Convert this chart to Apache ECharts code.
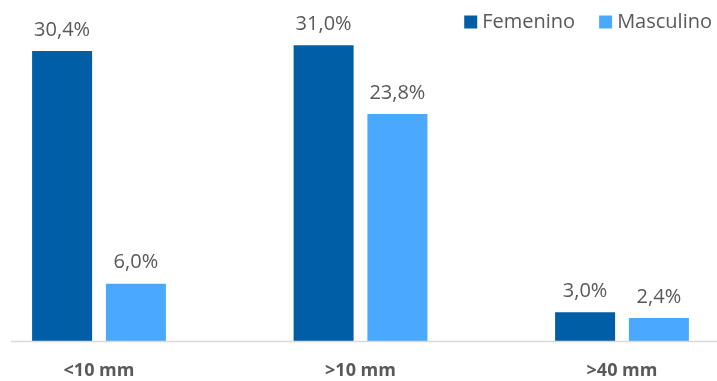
<!DOCTYPE html>
<html>
<head>
<meta charset="utf-8">
<script src="https://cdn.jsdelivr.net/npm/echarts@6/dist/echarts.min.js"></script>
<style>
  html, body { margin: 0; padding: 0; background: #fff; }
  #chart { width: 717px; height: 381px; }
</style>
</head>
<body>
<div id="chart"></div>
<script>
// Nodule size groups and share of cases per sex (%)
const categories = ['<10 mm', '>10 mm', '>40 mm'];
const femenino = [30.4, 31.0, 3.0];
const masculino = [6.0, 23.8, 2.4];
const seriesNames = ['Femenino', 'Masculino'];

const FONT = '"Open Sans", "Segoe UI", sans-serif';
const TEXT = '#595959';

const fmt = p => p.value.toFixed(1).replace('.', ',') + '%';

const labelStyle = {
  show: true,
  position: 'top',
  distance: 11,
  formatter: fmt,
  color: TEXT,
  fontFamily: FONT,
  fontSize: 20
};

const chart = echarts.init(document.getElementById('chart'), null, { renderer: 'canvas' });

chart.setOption({
  animation: false,
  backgroundColor: '#ffffff',
  // group centres sit on the axis ticks (boundaryGap off)
  grid: { left: 99, right: 95, top: 7, bottom: 40, containLabel: false },
  legend: {
    data: seriesNames,
    right: 0,
    top: 7,
    icon: 'rect',
    itemWidth: 13,
    itemHeight: 13,
    itemGap: 24,
    textStyle: { color: TEXT, fontFamily: FONT, fontSize: 20 }
  },
  xAxis: {
    type: 'category',
    data: categories,
    boundaryGap: false,
    axisLine: { show: false },
    axisTick: { show: false },
    axisLabel: {
      color: TEXT,
      fontFamily: FONT,
      fontSize: 18,
      fontWeight: 'bold',
      margin: 21
    }
  },
  yAxis: {
    type: 'value',
    min: 0,
    max: 35,
    show: false,
    splitLine: { show: false }
  },
  series: [
    {
      name: seriesNames[0],
      type: 'bar',
      data: femenino,
      barWidth: 60,
      barGap: '23%',
      itemStyle: { color: '#005EA6' },
      label: labelStyle
    },
    {
      name: seriesNames[1],
      type: 'bar',
      data: masculino,
      barWidth: 60,
      itemStyle: { color: '#4AA8FF' },
      label: labelStyle
    }
  ]
});

// Baseline rule drawn at the value-axis zero
const y0 = Math.round(chart.convertToPixel({ yAxisIndex: 0 }, 0)) + 0.5;
chart.setOption({
  graphic: [{
    type: 'line',
    shape: { x1: 11, y1: y0, x2: 717, y2: y0 },
    style: { stroke: '#d9d9d9', lineWidth: 1.5 },
    z: 10
  }]
});
</script>
</body>
</html>
